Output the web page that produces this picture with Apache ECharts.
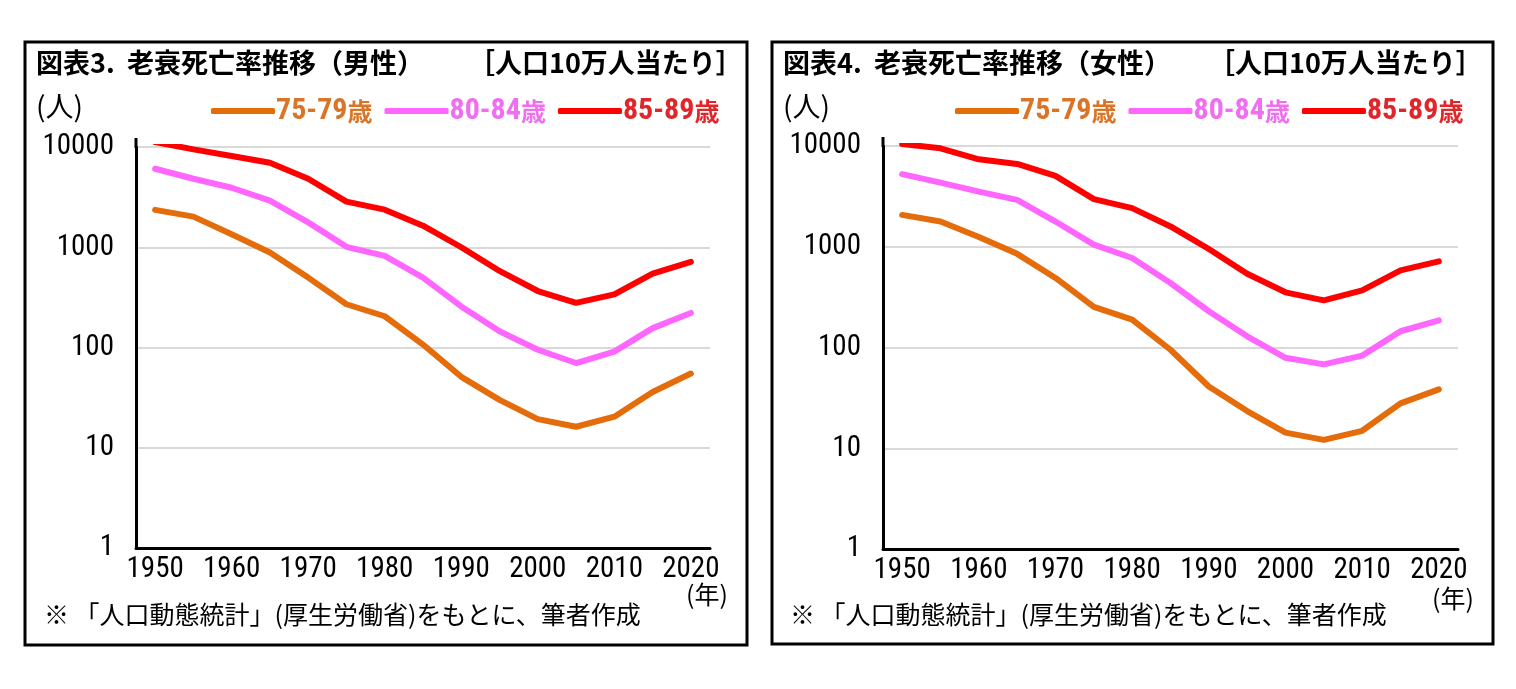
<!DOCTYPE html>
<html>
<head>
<meta charset="utf-8">
<script src="https://cdn.jsdelivr.net/npm/echarts@6/dist/echarts.min.js"></script>
<style>
  html, body { margin: 0; padding: 0; background: #fff; }
  #chart { width: 1516px; height: 689px; }
</style>
</head>
<body>
<div id="chart"></div>
<script>
// 年（5年ごと）
var years = ['1950','1955','1960','1965','1970','1975','1980','1985','1990','1995','2000','2005','2010','2015','2020'];
var yTicks = [1, 10, 100, 1000, 10000];
var ageNames = ['75-79歳', '80-84歳', '85-89歳'];

// 男性 （人口10万人当たり）
var male_75_79 = [2360, 2020, 1350, 885, 498, 270, 205, 107, 51, 30, 19.3, 16.2, 20.4, 36, 55];
var male_80_84 = [6070, 4820, 3920, 2920, 1770, 1010, 820, 498, 257, 145, 95, 70, 91, 156, 221];
var male_85_89 = [11200, 9480, 8130, 6970, 4820, 2850, 2370, 1640, 1000, 580, 366, 279, 339, 545, 714];

// 女性
var female_75_79 = [2070, 1780, 1250, 850, 490, 253, 189, 95, 41, 23.4, 14.3, 12.1, 14.9, 27.9, 38.4];
var female_80_84 = [5250, 4330, 3530, 2920, 1780, 1050, 773, 437, 229, 129, 79, 68, 83, 145, 186];
var female_85_89 = [10470, 9490, 7380, 6630, 5050, 2970, 2420, 1590, 950, 540, 353, 294, 369, 582, 716];

var colors = ['#E46C0A', '#FF66FF', '#FF0000'];
var legendColors = ['#DA7426', '#F06EF0', '#E0262A'];
var numFont = '"Liberation Sans Narrow", "Roboto Condensed", "Liberation Sans", sans-serif';
var jpFont = '"Noto Sans CJK JP", sans-serif';

var myChart = echarts.init(document.getElementById('chart'));

function makeXAxis(gi){
	return {
		type: 'category',
		gridIndex: gi,
		data: years,
		boundaryGap: true,
		axisTick: {show: false},
		axisLine: {lineStyle: {color: '#000', width: 3}},
		axisLabel: {
			interval: 1,
			margin: 7,
			color: '#000',
			fontSize: 29,
			fontFamily: numFont
		},
		splitLine: {show: false}
	};
}
function makeYAxis(gi){
	return {
		type: 'log',
		logBase: 10,
		gridIndex: gi,
		min: yTicks[0],
		max: yTicks[yTicks.length - 1],
		axisTick: {show: false},
		axisLine: {show: true, lineStyle: {color: '#000', width: 3}},
		axisLabel: {
			margin: 22,
			color: '#000',
			fontSize: 29,
			fontFamily: numFont,
			formatter: function(v){ return String(Math.round(v)); }
		},
		splitLine: {lineStyle: {color: '#d9d9d9', width: 2}}
	};
}
function makeSeries(name, data, idx, gi){
	return {
		name: name,
		type: 'line',
		xAxisIndex: gi,
		yAxisIndex: gi,
		symbol: 'none',
		data: data,
		lineStyle: {width: 6, color: colors[idx], cap: 'round', join: 'round'},
		itemStyle: {color: colors[idx]},
		z: 3 + idx
	};
}
function makeLegend(left){
	return {
		left: left,
		top: 91,
		icon: 'roundRect',
		itemWidth: 64,
		itemHeight: 6,
		itemGap: 12,
		selectedMode: false,
		formatter: function(name){
			return '{n|' + name.replace('歳', '') + '}{s|歳}';
		},
		textStyle: {
			padding: [0, 0, 0, -4],
			rich: {
				n: {fontSize: 30, fontFamily: numFont, fontWeight: 'bold'},
				s: {fontSize: 25, fontWeight: 'bold', fontFamily: jpFont}
			}
		},
		data: ageNames.map(function(n, i){
			return {name: n, textStyle: {color: legendColors[i]}};
		})
	};
}
function textEl(x, y, text, size, bold){
	return {
		type: 'text',
		left: x,
		top: y,
		style: {
			text: text,
			fill: '#000',
			font: (bold ? 'bold ' : '') + size + 'px ' + jpFont
		}
	};
}

option = {
	animation: false,
	grid: [
		{left: 136, right: 806, top: 147, bottom: 141},
		{left: 883, right: 58, top: 146, bottom: 140}
	],
	xAxis: [makeXAxis(0), makeXAxis(1)],
	yAxis: [makeYAxis(0), makeYAxis(1)],
	legend: [makeLegend(206), makeLegend(950)],
	series: [
		makeSeries(ageNames[0], male_75_79, 0, 0),
		makeSeries(ageNames[1], male_80_84, 1, 0),
		makeSeries(ageNames[2], male_85_89, 2, 0),
		makeSeries(ageNames[0], female_75_79, 0, 1),
		makeSeries(ageNames[1], female_80_84, 1, 1),
		makeSeries(ageNames[2], female_85_89, 2, 1)
	],
	graphic: [
		{type: 'rect', shape: {x: 25, y: 42, width: 722, height: 603}, style: {fill: 'none', stroke: '#000', lineWidth: 3}},
		{type: 'rect', shape: {x: 772, y: 42, width: 721, height: 602}, style: {fill: 'none', stroke: '#000', lineWidth: 3}},
		{type: 'line', shape: {x1: 136, y1: 138, x2: 136, y2: 148}, style: {stroke: '#000', lineWidth: 3}},
		{type: 'line', shape: {x1: 883, y1: 137, x2: 883, y2: 147}, style: {stroke: '#000', lineWidth: 3}},
		textEl(36, 49, '図表3.  老衰死亡率推移（男性）', 27, true),
		textEl(468, 49, '［人口10万人当たり］', 27, true),
		textEl(36, 92, '(人)', 28, false),
		textEl(686, 582, '(年)', 25, false),
		textEl(44, 602, '※ 「人口動態統計」(厚生労働省)をもとに、筆者作成', 25, false),
		textEl(783, 49, '図表4.  老衰死亡率推移（女性）', 27, true),
		textEl(1208, 49, '［人口10万人当たり］', 27, true),
		textEl(783, 92, '(人)', 28, false),
		textEl(1432, 586, '(年)', 25, false),
		textEl(790, 602, '※ 「人口動態統計」(厚生労働省)をもとに、筆者作成', 25, false)
	]
};
myChart.setOption(option);
</script>
</body>
</html>
